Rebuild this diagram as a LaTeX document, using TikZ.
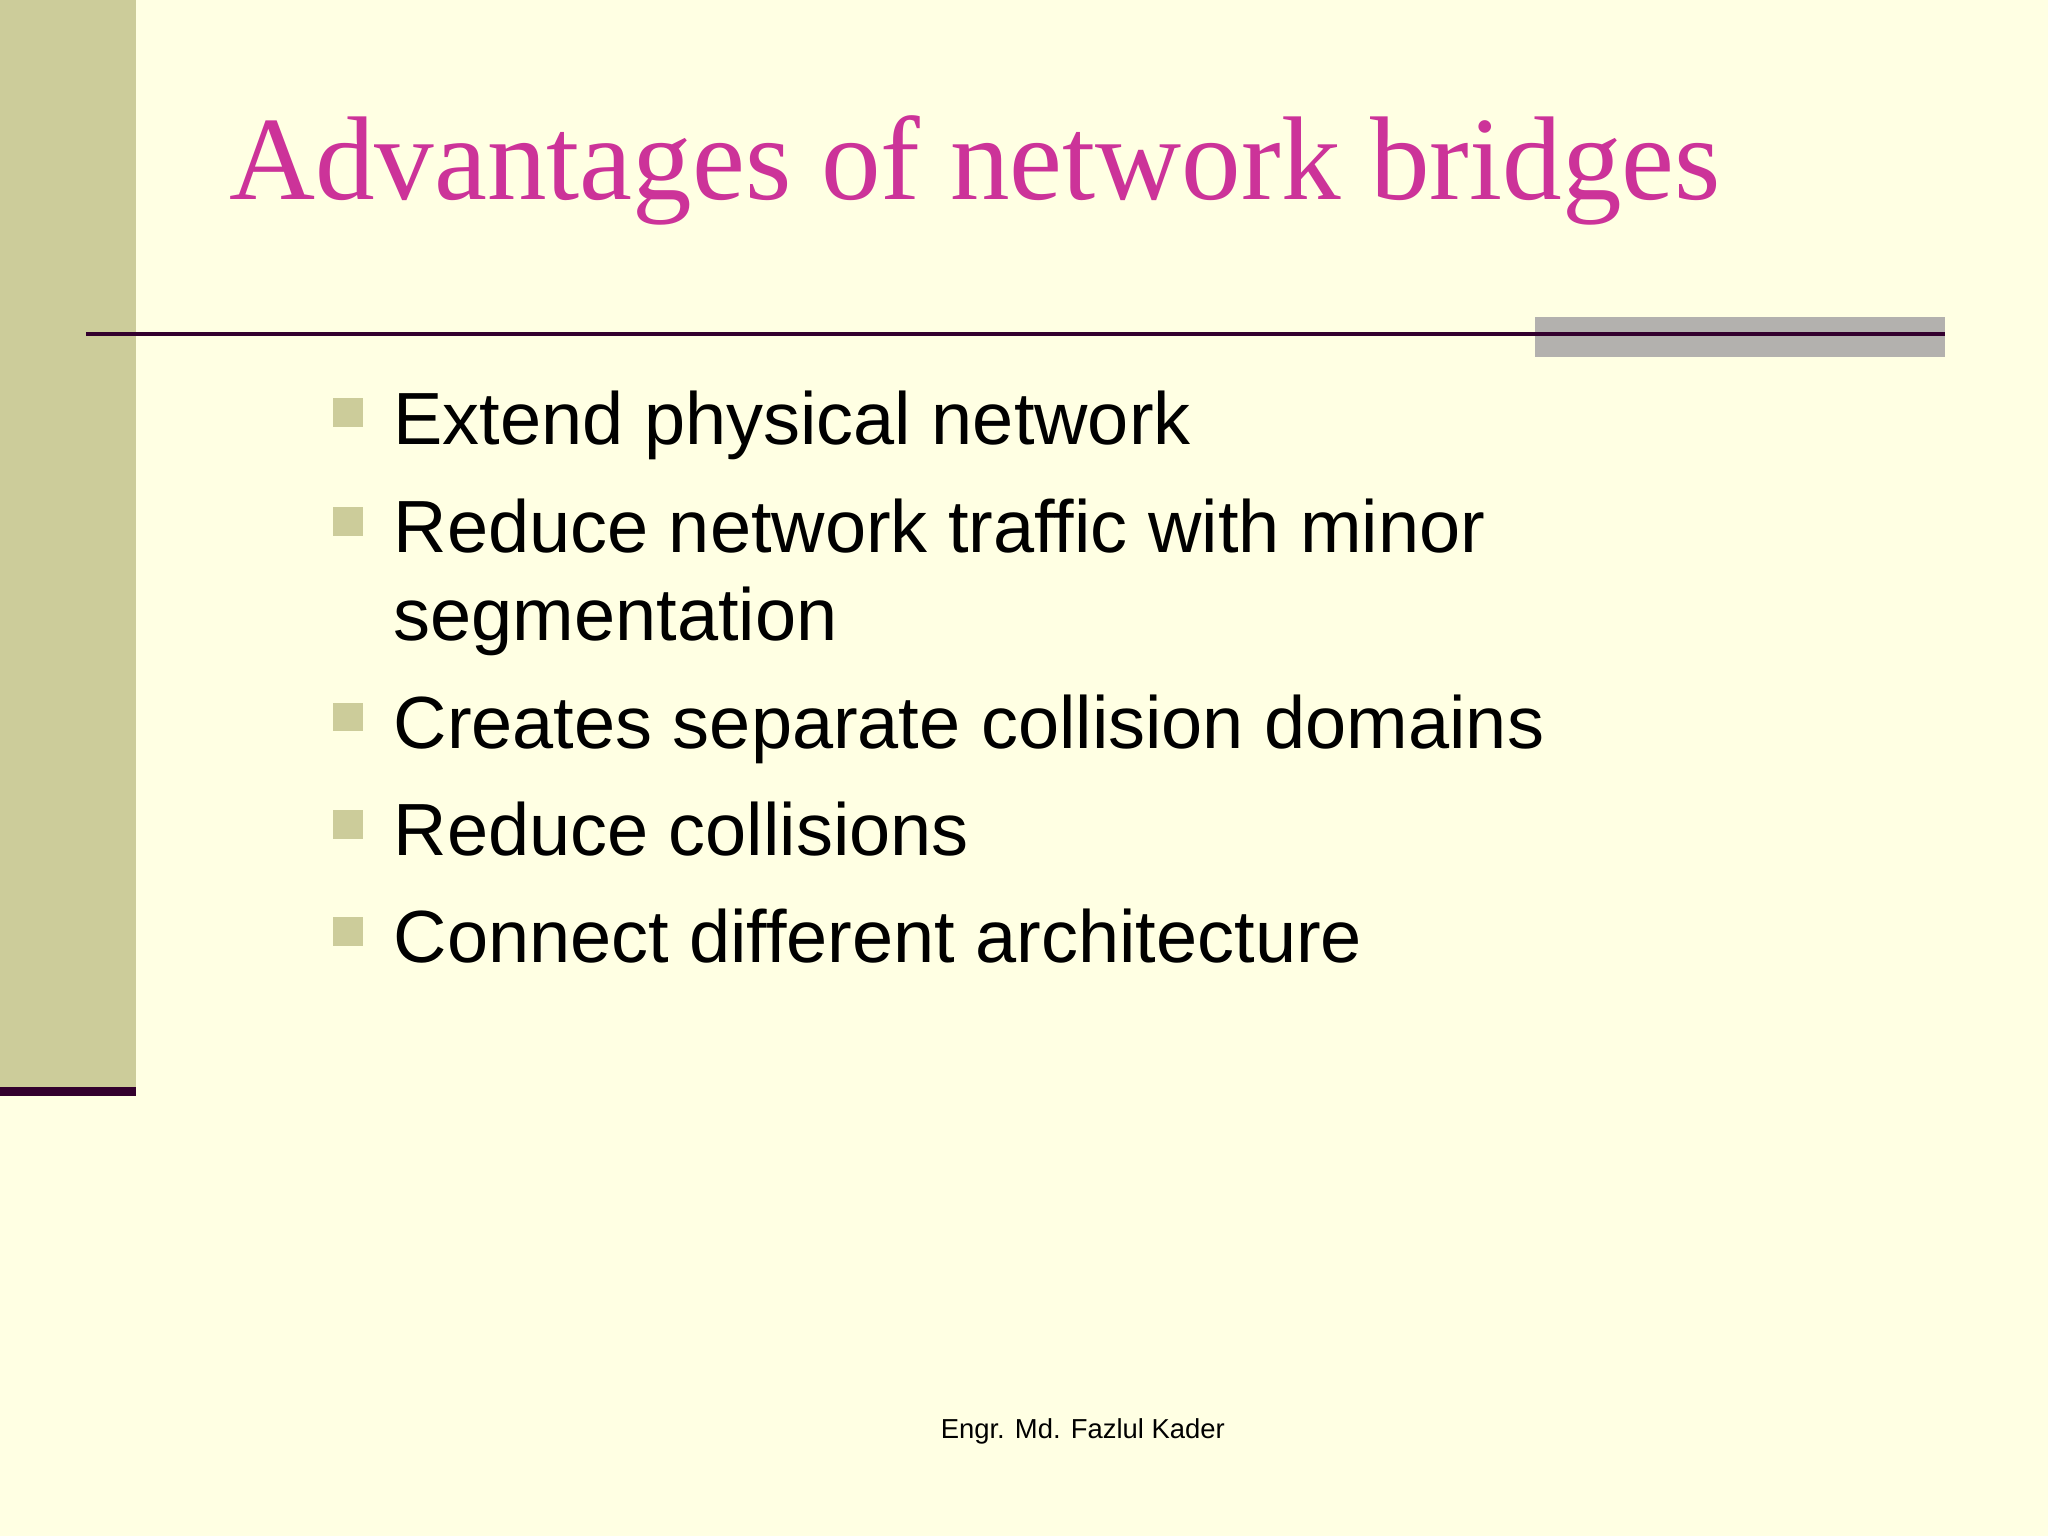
\documentclass[tikz,border=0pt]{standalone}
\usepackage{fontspec}
\setmainfont{Liberation Sans}
\newfontfamily\titlefont{Liberation Serif}
\definecolor{bg}{HTML}{FFFFE3}
\definecolor{barc}{HTML}{CCCC9A}
\definecolor{dk}{HTML}{33002E}
\definecolor{ttl}{HTML}{CC3399}
\definecolor{gr}{HTML}{B3B1AE}
\begin{document}
\begin{tikzpicture}[x=0.5pt,y=-0.5pt,
  bul/.style={fill=barc,draw=none},
  item/.style={anchor=base west,inner sep=0,font=\fontsize{28.3}{34}\selectfont}]
\fill[bg] (0,0) rectangle (1568,1176);
\useasboundingbox (0,0) rectangle (1568,1176);
\fill[barc] (0,0) rectangle (104,834);
\fill[dk] (0,832) rectangle (104,839);
\fill[gr] (1175,243) rectangle (1489,273);
\draw[dk,line width=1.5pt] (66,256) -- (1489,256);
\node[anchor=base west,inner sep=0,text=ttl,font=\titlefont\fontsize{45.6}{55}\selectfont] (title) at (175,153) {Advantages of network bridges};
\foreach \n/\yy/\t in {a/340/Extend physical network,b/423/Reduce network traffic with minor,c/573/Creates separate collision domains,d/655/Reduce collisions,e/737/Connect different architecture}{
  \fill[bul] (255,\yy-35) rectangle (278,\yy-13);
  \node[item] (\n) at (301,\yy) {\t};
}
\node[item] (b2) at (301,490) {segmentation};
\node[anchor=base,inner sep=0,font=\fontsize{10.5}{12}\selectfont] (foot) at (829,1101) {Engr. Md. Fazlul Kader};
\end{tikzpicture}
\end{document}
